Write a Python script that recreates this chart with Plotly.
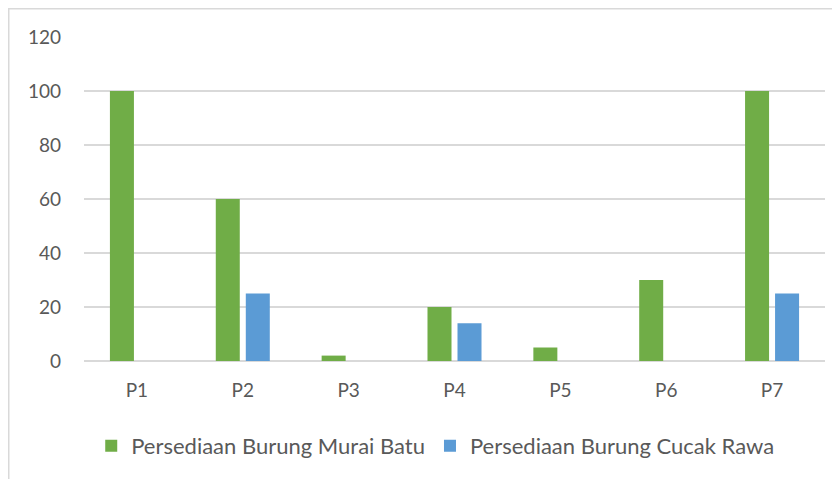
import plotly.graph_objects as go

categories = ["P1", "P2", "P3", "P4", "P5", "P6", "P7"]
murai_batu = [100, 60, 2, 20, 5, 30, 100]
cucak_rawa = [0, 25, 0, 14, 0, 0, 25]
y_ticks = [0, 20, 40, 60, 80, 100, 120]

FONT = "Lato, 'Open Sans', sans-serif"
GRAY = "#595959"

fig = go.Figure()
fig.add_trace(go.Bar(x=categories, y=murai_batu, name="Persediaan Burung Murai Batu",
                     marker=dict(color="#70AD47", line=dict(width=0))))
fig.add_trace(go.Bar(x=categories, y=cucak_rawa, name="Persediaan Burung Cucak Rawa",
                     marker=dict(color="#5B9BD5", line=dict(width=0))))

# page body has an 8px offset in the browser
L, R, T, B = 76, 15, 29, 118
W, H = 832, 471
pw, ph = W - L - R, H - T - B

fig.update_layout(
    width=W, height=H,
    margin=dict(l=L, r=R, t=T, b=B, pad=0),
    paper_bgcolor="white", plot_bgcolor="white",
    barmode="group", bargap=0.433, bargroupgap=0.2,
    font=dict(family=FONT, color=GRAY, size=19),
    showlegend=True,
    legend=dict(orientation="h", x=0.474, xanchor="center", y=-85 / ph, yanchor="middle",
                font=dict(size=22, color=GRAY), itemwidth=30, traceorder="normal"),
    xaxis=dict(showgrid=False, showline=False, ticks="", ticklabelstandoff=16,
               tickfont=dict(size=19, color=GRAY)),
    yaxis=dict(range=[0, 120], tickvals=y_ticks, showgrid=True, gridcolor="#D9D9D9", gridwidth=1.5,
               zeroline=True, zerolinecolor="#D9D9D9", zerolinewidth=1.5, showline=False,
               ticks="", ticklabelstandoff=22, tickfont=dict(size=19, color=GRAY)),
    shapes=[
        dict(type="line", xref="paper", yref="paper", x0=-L / pw + 0.001, x1=1 + R / pw,
             y0=1 + T / ph - 0.002, y1=1 + T / ph - 0.002, line=dict(color="#D9D9D9", width=1.5)),
        dict(type="line", xref="paper", yref="paper", x0=-L / pw + 0.001, x1=-L / pw + 0.001,
             y0=1 + T / ph, y1=-B / ph, line=dict(color="#D9D9D9", width=1.5)),
    ],
)

fig.write_html("out.html")
